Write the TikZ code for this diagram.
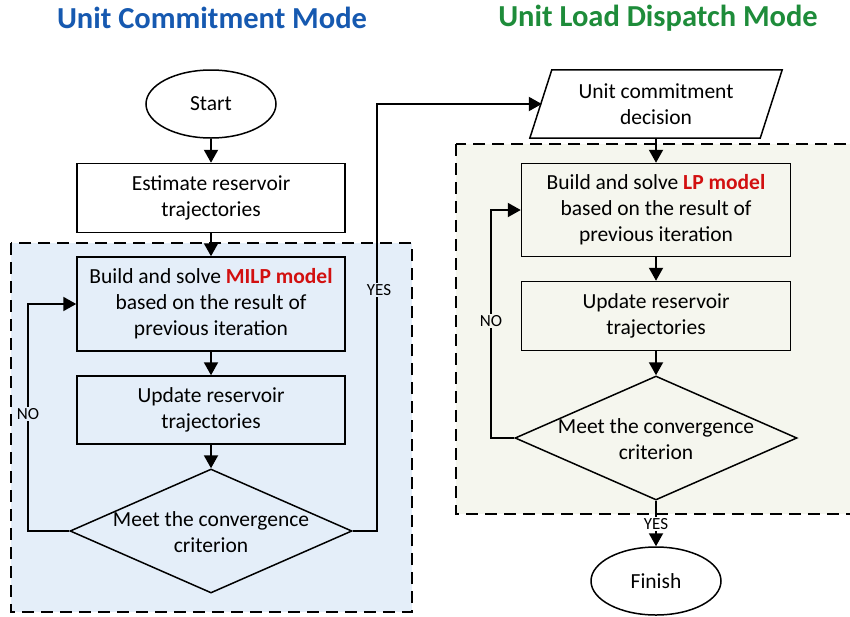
\documentclass[tikz,border=0pt]{standalone}
\usepackage{fontspec}
\setmainfont{Carlito}
\usetikzlibrary{arrows.meta,shapes.geometric}
\definecolor{ttlblue}{RGB}{22,89,176}
\definecolor{ttlgreen}{RGB}{30,140,58}
\definecolor{kwred}{RGB}{210,16,16}
\definecolor{regblue}{RGB}{228,238,249}
\definecolor{reggreen}{RGB}{245,246,238}
\tikzset{
  txt/.style={font=\fontsize{21.5}{26}\selectfont, align=center},
  box/.style={txt, draw, line width=1.5pt, inner sep=0pt, minimum width=268pt},
  oval/.style={txt, ellipse, draw, line width=1.5pt, inner sep=0pt, minimum width=130pt, minimum height=68pt, fill=white},
  dia/.style={diamond, draw, line width=1.5pt, inner sep=0pt, minimum width=282pt, minimum height=124pt},
  region/.style={draw, line width=2pt, dash pattern=on 12pt off 7pt},
  arr/.style={line width=2pt, -{Triangle[width=14pt,length=13pt]}},
  lbl/.style={font=\fontsize{17}{19}\selectfont, inner sep=1pt},
  ttl/.style={font=\fontsize{30.5}{34}\selectfont\bfseries}
}
\begin{document}
\begin{tikzpicture}[x=1pt,y=-1pt]
\clip (0,0) rectangle (850,616);
% titles
\node[ttl, text=ttlblue] (t1) at (212,18) {Unit Commitment Mode};
\node[ttl, text=ttlgreen] (t2) at (658,18) {Unit Load Dispatch Mode};
% regions
\draw[region, fill=regblue] (11,243) rectangle (412,612);
\draw[region, fill=reggreen] (456,144) rectangle (870,514);
% left column
\node[oval] (start) at (211,104) {Start};
\node[box, fill=white, minimum height=69pt] (est) at (211,198) {Estimate reservoir\\trajectories};
\node[box, minimum height=94pt] (milp) at (211,304) {Build and solve \textcolor{kwred}{\bfseries MILP model}\\based on the result of\\previous iteration};
\node[box, minimum height=68pt] (upd1) at (211,410) {Update reservoir\\trajectories};
\node[dia] (d1) at (211,531) {};
\node[txt] (d1t) at (211,532) {Meet the convergence\\criterion};
% right column
\node[minimum width=228pt, minimum height=68pt, inner sep=0pt] (ucd) at (656,104) {};
\draw[line width=1.5pt, fill=white] ([xshift=10pt]ucd.north west) -- ([xshift=12pt]ucd.north east) -- ([xshift=-10pt]ucd.south east) -- ([xshift=-12pt]ucd.south west) -- cycle;
\node[txt] (ucdt) at (ucd) {Unit commitment\\decision};
\node[box, minimum width=269pt, minimum height=93pt] (lp) at (656,210) {Build and solve \textcolor{kwred}{\bfseries LP model}\\based on the result of\\previous iteration};
\node[box, minimum width=269pt, minimum height=69pt] (upd2) at (656,316) {Update reservoir\\trajectories};
\node[dia] (d2) at (656,438) {};
\node[txt] (d2t) at (656,439) {Meet the convergence\\criterion};
\node[oval] (fin) at (656,581) {Finish};
% bend coordinates
\coordinate (noL) at (28,0);
\coordinate (yesL) at (377,0);
\coordinate (noR) at (491,0);
% connectors
\draw[arr] (start) -- (est);
\draw[arr] (est) -- (milp);
\draw[arr] (milp) -- (upd1);
\draw[arr] (upd1) -- (d1.north);
\draw[arr] (d1.west) -- (d1.west -| noL) |- (milp.west);
\draw[arr] (d1.east) -- (d1.east -| yesL) |- (ucd.west);
\draw[arr] (ucd.south) -- (lp);
\draw[arr] (lp) -- (upd2);
\draw[arr] (upd2) -- (d2.north);
\draw[arr] (d2.west) -- (d2.west -| noR) |- (lp.west);
\draw[arr] (d2.south) -- (fin.north);
% labels
\node[lbl, fill=regblue] (lno1) at (28,414) {NO};
\node[lbl, fill=regblue] (lyes1) at (379,290) {YES};
\node[lbl, fill=reggreen] (lno2) at (491,321) {NO};
\node[lbl, fill=white] (lyes2) at (656,524) {YES};
\end{tikzpicture}
\end{document}
